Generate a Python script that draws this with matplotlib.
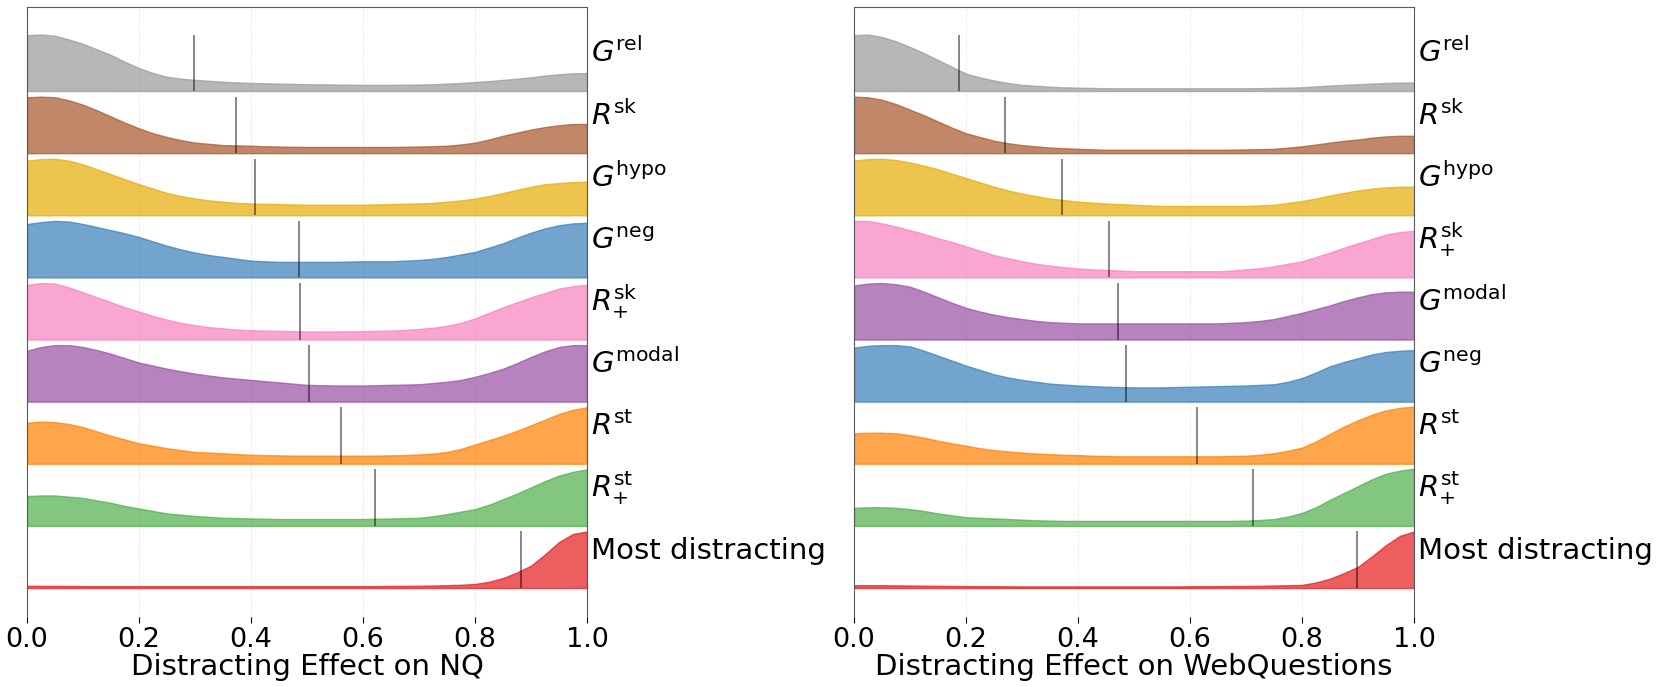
import numpy as np
import matplotlib.pyplot as plt

# density values read at x = 0.000, 0.025, ..., 1.000 (scaled to row height)
x_grid = np.linspace(0, 1, 41)

colors = {
    "G_rel": "#999999",
    "R_sk": "#a65628",
    "G_hypo": "#e6ab02",
    "G_neg": "#377eb8",
    "R_sk_plus": "#f781bf",
    "G_modal": "#984ea3",
    "R_st": "#ff7f00",
    "R_st_plus": "#4daf4a",
    "Most": "#e41a1c",
}

names = {
    "G_rel": r"$G^{\mathrm{rel}}$",
    "R_sk": r"$R^{\mathrm{sk}}$",
    "G_hypo": r"$G^{\mathrm{hypo}}$",
    "G_neg": r"$G^{\mathrm{neg}}$",
    "R_sk_plus": r"$R^{\mathrm{sk}}_{+}$",
    "G_modal": r"$G^{\mathrm{modal}}$",
    "R_st": r"$R^{\mathrm{st}}$",
    "R_st_plus": r"$R^{\mathrm{st}}_{+}$",
    "Most": "Most distracting",
}

# ---- NQ ----
nq_order = ["G_rel", "R_sk", "G_hypo", "G_neg", "R_sk_plus", "G_modal", "R_st", "R_st_plus", "Most"]
nq_means = [0.298, 0.374, 0.407, 0.485, 0.488, 0.504, 0.560, 0.622, 0.882]

nq_g_rel = [0.90, 0.91, 0.89, 0.83, 0.76, 0.67, 0.58, 0.47, 0.37, 0.29,
            0.23, 0.20, 0.18, 0.165, 0.15, 0.14, 0.13, 0.125, 0.12, 0.115,
            0.11, 0.108, 0.105, 0.102, 0.10, 0.10, 0.10, 0.102, 0.105, 0.11,
            0.12, 0.13, 0.145, 0.16, 0.18, 0.20, 0.22, 0.25, 0.27, 0.285, 0.29]
nq_r_sk = [0.90, 0.91, 0.90, 0.85, 0.78, 0.69, 0.59, 0.49, 0.40, 0.32,
           0.26, 0.21, 0.17, 0.15, 0.13, 0.125, 0.12, 0.112, 0.107, 0.103,
           0.10, 0.10, 0.10, 0.10, 0.10, 0.10, 0.10, 0.103, 0.107, 0.112,
           0.12, 0.14, 0.17, 0.22, 0.28, 0.33, 0.38, 0.42, 0.45, 0.47, 0.47]
nq_g_hypo = [0.88, 0.905, 0.91, 0.88, 0.82, 0.74, 0.66, 0.58, 0.50, 0.43,
             0.36, 0.31, 0.27, 0.24, 0.22, 0.20, 0.19, 0.185, 0.18, 0.175,
             0.17, 0.17, 0.17, 0.17, 0.17, 0.175, 0.18, 0.185, 0.19, 0.20,
             0.22, 0.24, 0.27, 0.31, 0.36, 0.41, 0.46, 0.50, 0.52, 0.535, 0.54]
nq_g_neg = [0.86, 0.89, 0.91, 0.90, 0.86, 0.81, 0.76, 0.71, 0.65, 0.58,
            0.51, 0.45, 0.40, 0.36, 0.33, 0.30, 0.27, 0.26, 0.25, 0.25,
            0.25, 0.25, 0.25, 0.255, 0.26, 0.26, 0.26, 0.27, 0.28, 0.30,
            0.33, 0.37, 0.41, 0.48, 0.55, 0.64, 0.72, 0.79, 0.84, 0.87, 0.88]
nq_r_sk_plus = [0.88, 0.91, 0.90, 0.84, 0.76, 0.68, 0.60, 0.52, 0.45, 0.38,
                0.32, 0.27, 0.23, 0.20, 0.18, 0.16, 0.15, 0.145, 0.14, 0.135,
                0.13, 0.13, 0.13, 0.132, 0.135, 0.14, 0.145, 0.155, 0.17, 0.19,
                0.22, 0.27, 0.34, 0.43, 0.52, 0.60, 0.68, 0.75, 0.82, 0.86, 0.88]
nq_g_modal = [0.82, 0.88, 0.91, 0.91, 0.88, 0.83, 0.77, 0.70, 0.63, 0.58,
              0.53, 0.49, 0.45, 0.42, 0.39, 0.37, 0.35, 0.33, 0.31, 0.29,
              0.27, 0.265, 0.26, 0.26, 0.26, 0.265, 0.27, 0.275, 0.28, 0.30,
              0.32, 0.35, 0.40, 0.46, 0.53, 0.62, 0.72, 0.81, 0.88, 0.91, 0.91]
nq_r_st = [0.66, 0.68, 0.67, 0.64, 0.59, 0.52, 0.45, 0.39, 0.33, 0.29,
           0.25, 0.22, 0.19, 0.18, 0.17, 0.155, 0.145, 0.14, 0.135, 0.132,
           0.13, 0.13, 0.13, 0.13, 0.13, 0.132, 0.135, 0.14, 0.15, 0.165,
           0.19, 0.24, 0.31, 0.38, 0.45, 0.53, 0.62, 0.71, 0.80, 0.87, 0.91]
nq_r_st_plus = [0.48, 0.49, 0.49, 0.47, 0.45, 0.41, 0.37, 0.32, 0.28, 0.24,
                0.20, 0.18, 0.16, 0.145, 0.13, 0.125, 0.12, 0.115, 0.11, 0.11,
                0.11, 0.11, 0.11, 0.11, 0.11, 0.115, 0.12, 0.125, 0.13, 0.155,
                0.19, 0.23, 0.27, 0.34, 0.43, 0.52, 0.62, 0.72, 0.81, 0.87, 0.91]
nq_most = [0.035, 0.034, 0.033, 0.032, 0.03, 0.03, 0.03, 0.03, 0.03, 0.03,
           0.03, 0.03, 0.03, 0.03, 0.03, 0.03, 0.03, 0.03, 0.03, 0.03,
           0.03, 0.03, 0.03, 0.03, 0.03, 0.03, 0.033, 0.034, 0.036, 0.04,
           0.045, 0.052, 0.065, 0.10, 0.16, 0.25, 0.36, 0.54, 0.74, 0.87, 0.91]

# ---- WebQuestions ----
wq_order = ["G_rel", "R_sk", "G_hypo", "R_sk_plus", "G_modal", "G_neg", "R_st", "R_st_plus", "Most"]
wq_means = [0.187, 0.269, 0.371, 0.456, 0.472, 0.486, 0.612, 0.713, 0.899]

wq_g_rel = [0.90, 0.91, 0.87, 0.80, 0.71, 0.61, 0.50, 0.39, 0.28, 0.22,
            0.17, 0.13, 0.10, 0.085, 0.07, 0.06, 0.055, 0.05, 0.045, 0.045,
            0.045, 0.045, 0.045, 0.045, 0.045, 0.045, 0.045, 0.045, 0.045, 0.047,
            0.05, 0.055, 0.06, 0.075, 0.09, 0.10, 0.11, 0.12, 0.13, 0.135, 0.14]
wq_r_sk = [0.91, 0.90, 0.86, 0.79, 0.70, 0.61, 0.51, 0.41, 0.32, 0.26,
           0.20, 0.16, 0.13, 0.11, 0.09, 0.08, 0.07, 0.062, 0.055, 0.055,
           0.055, 0.055, 0.055, 0.055, 0.055, 0.055, 0.055, 0.057, 0.06, 0.065,
           0.07, 0.09, 0.11, 0.14, 0.17, 0.20, 0.22, 0.25, 0.27, 0.28, 0.28]
wq_g_hypo = [0.88, 0.905, 0.91, 0.89, 0.85, 0.80, 0.74, 0.67, 0.60, 0.53,
             0.46, 0.40, 0.35, 0.31, 0.27, 0.245, 0.22, 0.205, 0.19, 0.18,
             0.17, 0.16, 0.15, 0.15, 0.15, 0.15, 0.15, 0.15, 0.15, 0.16,
             0.17, 0.20, 0.23, 0.27, 0.32, 0.36, 0.40, 0.43, 0.45, 0.46, 0.46]
wq_r_sk_plus = [0.91, 0.91, 0.87, 0.82, 0.76, 0.70, 0.63, 0.57, 0.50, 0.43,
                0.36, 0.31, 0.26, 0.22, 0.19, 0.165, 0.145, 0.13, 0.12, 0.11,
                0.10, 0.10, 0.10, 0.10, 0.10, 0.10, 0.10, 0.11, 0.13, 0.15,
                0.18, 0.22, 0.26, 0.33, 0.40, 0.48, 0.55, 0.62, 0.69, 0.73, 0.75]
wq_g_modal = [0.87, 0.90, 0.91, 0.89, 0.85, 0.77, 0.68, 0.59, 0.51, 0.45,
              0.40, 0.36, 0.33, 0.30, 0.28, 0.27, 0.26, 0.26, 0.26, 0.26,
              0.26, 0.26, 0.26, 0.26, 0.26, 0.26, 0.26, 0.27, 0.28, 0.30,
              0.33, 0.38, 0.43, 0.49, 0.55, 0.62, 0.68, 0.73, 0.76, 0.77, 0.77]
wq_g_neg = [0.87, 0.90, 0.91, 0.91, 0.89, 0.82, 0.74, 0.66, 0.58, 0.51,
            0.44, 0.39, 0.35, 0.32, 0.29, 0.275, 0.26, 0.25, 0.24, 0.235,
            0.23, 0.23, 0.23, 0.235, 0.24, 0.245, 0.25, 0.255, 0.26, 0.27,
            0.28, 0.32, 0.38, 0.47, 0.57, 0.64, 0.70, 0.76, 0.80, 0.82, 0.83]
wq_r_st = [0.49, 0.50, 0.50, 0.49, 0.46, 0.42, 0.37, 0.33, 0.29, 0.25,
           0.22, 0.20, 0.18, 0.165, 0.155, 0.145, 0.14, 0.13, 0.125, 0.12,
           0.12, 0.12, 0.12, 0.12, 0.12, 0.12, 0.12, 0.125, 0.13, 0.145,
           0.17, 0.21, 0.26, 0.36, 0.48, 0.60, 0.70, 0.79, 0.86, 0.90, 0.92]
wq_r_st_plus = [0.29, 0.30, 0.30, 0.29, 0.27, 0.24, 0.20, 0.17, 0.14, 0.13,
                0.12, 0.11, 0.10, 0.09, 0.085, 0.08, 0.08, 0.08, 0.08, 0.08,
                0.08, 0.08, 0.08, 0.08, 0.08, 0.08, 0.08, 0.08, 0.085, 0.095,
                0.11, 0.15, 0.21, 0.30, 0.42, 0.53, 0.64, 0.75, 0.84, 0.89, 0.92]
wq_most = [0.045, 0.045, 0.045, 0.042, 0.04, 0.037, 0.035, 0.032, 0.03, 0.029,
           0.028, 0.027, 0.025, 0.025, 0.025, 0.025, 0.025, 0.025, 0.025, 0.025,
           0.025, 0.025, 0.025, 0.025, 0.028, 0.029, 0.03, 0.031, 0.032, 0.036,
           0.04, 0.045, 0.05, 0.09, 0.15, 0.24, 0.34, 0.51, 0.69, 0.84, 0.91]

nq_curves = [nq_g_rel, nq_r_sk, nq_g_hypo, nq_g_neg, nq_r_sk_plus, nq_g_modal, nq_r_st, nq_r_st_plus, nq_most]
wq_curves = [wq_g_rel, wq_r_sk, wq_g_hypo, wq_r_sk_plus, wq_g_modal, wq_g_neg, wq_r_st, wq_r_st_plus, wq_most]

ROW_TOP = 0.91  # height of the mean marker in row units


def ridge(ax, order, curves, means, xlabel):
    n = len(order)
    for i, (key, dens, m) in enumerate(zip(order, curves, means)):
        base = n - 1 - i
        c = colors[key]
        ax.fill_between(x_grid, base, base + np.array(dens), color=c, alpha=0.7,
                        linewidth=1, zorder=2)
        ax.vlines(m, base, base + ROW_TOP, color="k", alpha=0.55, linewidth=1.2, zorder=3)
        ax.text(1.007, base + 0.46, names[key], fontsize=21, va="baseline", ha="left",
                clip_on=False)
    ax.set_xlim(0, 1)
    ax.set_ylim(-0.467, n - 1 + 1.353)
    ax.set_yticks([])
    ax.set_xticks([0.0, 0.2, 0.4, 0.6, 0.8, 1.0])
    ax.tick_params(axis="x", labelsize=19.5, length=4, pad=3)
    ax.grid(axis="x", linestyle="--", color="#e6e6e6", linewidth=0.6, zorder=0)
    ax.set_axisbelow(True)
    ax.spines["bottom"].set_visible(False)
    for s in ["left", "top", "right"]:
        ax.spines[s].set_color("0.35")
    ax.set_xlabel(xlabel, fontsize=21, labelpad=0)


fig = plt.figure(figsize=(16.6, 6.87), dpi=100)
ax1 = fig.add_axes([0.0163, 0.1019, 0.3373, 0.8879])
ax2 = fig.add_axes([0.5145, 0.1019, 0.3373, 0.8879])

ridge(ax1, nq_order, nq_curves, nq_means, "Distracting Effect on NQ")
ridge(ax2, wq_order, wq_curves, wq_means, "Distracting Effect on WebQuestions")

fig.savefig("out.png", dpi=100)
